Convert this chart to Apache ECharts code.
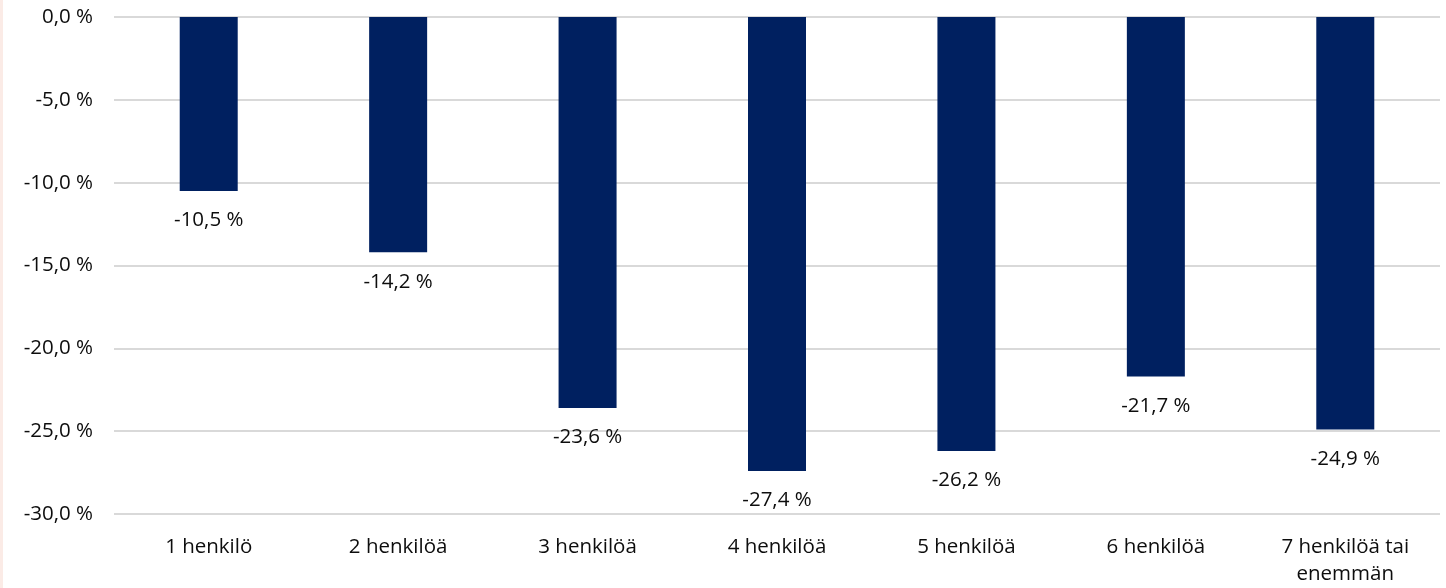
<!DOCTYPE html>
<html><head><meta charset="utf-8">
<script src="https://cdn.jsdelivr.net/npm/echarts@6/dist/echarts.min.js"></script>
<style>html,body{margin:0;padding:0;background:#fff}#c{width:1446px;height:588px;border-left:3px solid #fbebe6;box-sizing:border-box}</style>
</head><body><div id="c"></div>
<script>
const categories = ['1 henkilö','2 henkilöä','3 henkilöä','4 henkilöä','5 henkilöä','6 henkilöä','7 henkilöä tai\nenemmän'];
const values = [-10.5,-14.2,-23.6,-27.4,-26.2,-21.7,-24.9];
const fmt = v => v.toFixed(1).replace('.', ',') + ' %';
const chart = echarts.init(document.getElementById('c'), null, {renderer:'canvas'});
const font = '"Open Sans", sans-serif';
chart.setOption({
  animation:false,
  grid:{left:111,right:6,top:17,bottom:71,containLabel:false},
  xAxis:{type:'category',data:categories,position:'bottom',
    axisLine:{show:false,onZero:false},axisTick:{show:false},
    axisLabel:{fontFamily:font,fontSize:20.5,color:'#0d0d0d',margin:20,lineHeight:27,interval:0}},
  yAxis:{type:'value',min:-30,max:0,interval:5,
    axisLine:{show:false},axisTick:{show:false},
    splitLine:{lineStyle:{color:'#d9d9d9',width:2}},
    axisLabel:{fontFamily:font,fontSize:20.5,color:'#0d0d0d',margin:21,formatter:fmt}},
  series:[{type:'bar',data:values,barWidth:58,itemStyle:{color:'#002060'},
    label:{show:true,position:'bottom',distance:19,fontFamily:font,fontSize:20.5,color:'#0d0d0d',
      formatter:p=>fmt(p.value)}}]
});
</script></body></html>
